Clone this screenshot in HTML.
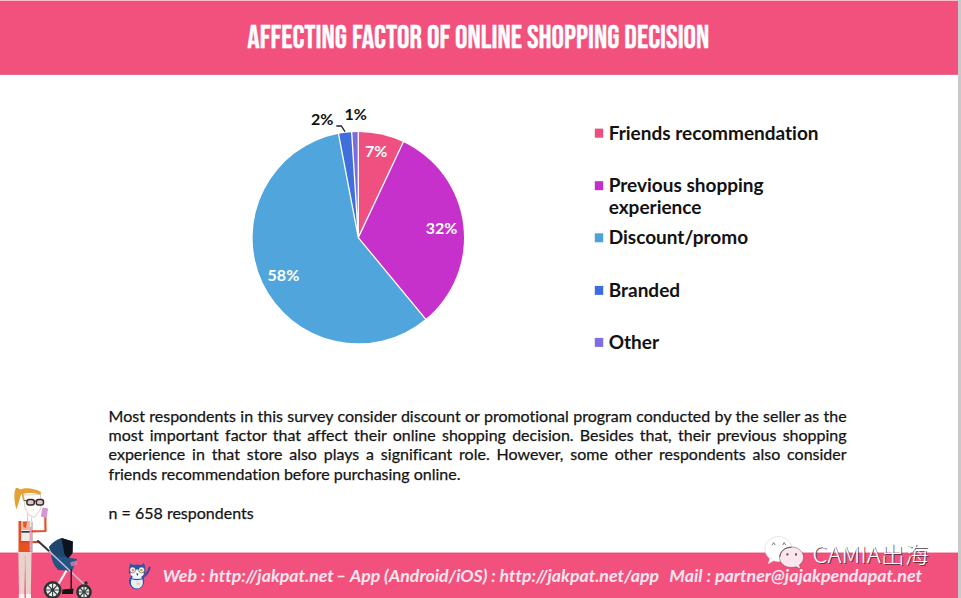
<!DOCTYPE html>
<html><head><meta charset="utf-8">
<style>
*{margin:0;padding:0;box-sizing:border-box}
html,body{width:961px;height:598px;overflow:hidden;background:#fff}
body{position:relative;font-family:"Lato","Liberation Sans",sans-serif;color:#1a1a1a}
svg{position:absolute;left:0;top:0;font-variant-ligatures:none}
.para{position:absolute;left:108.6px;top:405.6px;width:738px;font-size:16px;line-height:19.4px;color:#141414;-webkit-text-stroke:0.25px #141414;font-variant-ligatures:none}
.para div{text-align:justify;text-align-last:justify;white-space:nowrap}
.para div.last{text-align-last:left}
</style></head><body>
<svg width="961" height="598" viewBox="0 0 961 598">
<!-- header band -->
<rect x="0" y="0" width="958" height="74.6" fill="#F2517D"/>
<rect x="0" y="0" width="958" height="1" fill="#F9BDCC"/>
<rect x="0" y="1" width="958" height="1" fill="#D65E80"/>
<rect x="0" y="73.6" width="958" height="1" fill="#D85A7E"/>
<text x="478.3" y="47.8" text-anchor="middle" font-family="'Bebas Neue','Liberation Sans',sans-serif" font-size="32" fill="#fff" stroke="#fff" stroke-width="0.35" textLength="462" lengthAdjust="spacingAndGlyphs">AFFECTING FACTOR OF ONLINE SHOPPING DECISION</text>
<!-- footer band -->
<rect x="0" y="552" width="958" height="46" fill="#F2517D"/>
<rect x="0" y="552" width="958" height="1" fill="#F8AFC3"/>
<rect x="0" y="553" width="958" height="1" fill="#E05479"/>
<!-- right strip -->
<rect x="958" y="0" width="3" height="598" fill="#C9C9C9"/>

<!-- pie -->
<g>
<path d="M358.3,237.65 L358.30,131.95 A105.7,105.7 0 0 1 403.30,142.01 Z" fill="#EF5080"/>
<path d="M358.3,237.65 L403.30,142.01 A105.7,105.7 0 0 1 425.68,319.09 Z" fill="#C631CB"/>
<path d="M358.3,237.65 L425.68,319.09 A105.7,105.7 0 1 1 338.49,133.82 Z" fill="#50A5DD"/>
<path d="M358.3,237.65 L338.49,133.82 A105.7,105.7 0 0 1 351.66,132.16 Z" fill="#3F6FDB"/>
<path d="M358.3,237.65 L351.66,132.16 A105.7,105.7 0 0 1 358.30,131.95 Z" fill="#7D6BDB"/>
</g>
<path d="M358.3,237.65 L358.30,131.35 M358.3,237.65 L403.56,141.47 M358.3,237.65 L426.06,319.56 M358.3,237.65 L338.38,133.23 M358.3,237.65 L351.63,131.56" stroke="#fff" stroke-width="1.3" fill="none"/>
<path d="M336.3,126 L341.3,126 L345,131.7" fill="none" stroke="#222" stroke-width="1.3"/>
<g font-family="Lato,'Liberation Sans',sans-serif" font-weight="700" font-size="16">
<text x="365.1" y="157.2" fill="#fff">7%</text>
<text x="425.8" y="234" fill="#fff">32%</text>
<text x="267.6" y="280.8" fill="#fff">58%</text>
<text x="310.9" y="125.4" fill="#111">2%</text>
<text x="344.6" y="120.4" fill="#111">1%</text>
</g>

<!-- legend -->
<rect x="594.8" y="128.6" width="8.4" height="9.1" fill="#EA5080"/>
<rect x="594.8" y="181.2" width="8.4" height="9.0" fill="#C42FCC"/>
<rect x="594.8" y="233.3" width="8.4" height="9.0" fill="#4EA2DB"/>
<rect x="594.8" y="285.9" width="8.4" height="9.0" fill="#3F6AE0"/>
<rect x="594.8" y="337.9" width="8.4" height="9.0" fill="#7D6CE2"/>
<g font-family="Lato,'Liberation Sans',sans-serif" font-weight="700" font-size="19" fill="#121212">
<text x="608.7" y="139.7" textLength="209.88" lengthAdjust="spacingAndGlyphs">Friends recommendation</text>
<text x="608.7" y="191.7" textLength="154.92" lengthAdjust="spacingAndGlyphs">Previous shopping</text>
<text x="608.7" y="213.7" textLength="92.78" lengthAdjust="spacingAndGlyphs">experience</text>
<text x="608.7" y="243.9" textLength="139.38" lengthAdjust="spacingAndGlyphs">Discount/promo</text>
<text x="608.7" y="296.9" textLength="71.38" lengthAdjust="spacingAndGlyphs">Branded</text>
<text x="608.7" y="348.9" textLength="50.36" lengthAdjust="spacingAndGlyphs">Other</text>
</g>

<!-- woman with stroller -->
<g id="woman">
<!-- pants -->
<path d="M18.3,551 L31.6,551 L30.8,594 L26,594 L25.2,560 L24.3,594 L19,594 Z" fill="#E8D2CB"/>
<path d="M25.2,556 L25.2,594" stroke="#C8AEA6" stroke-width="0.6"/>
<path d="M18.8,594 L24.5,594 L24.5,598 L18.8,598 Z M25.8,594 L31,594 L31,598 L25.8,598 Z" fill="#F8F4F2"/>
<!-- shirt -->
<rect x="19" y="521" width="13" height="31" fill="#F4E8E2"/>
<rect x="18.5" y="521" width="2.6" height="31" fill="#E04C24"/>
<path d="M21,521 L30,521 L29.5,530 L21,530 Z" fill="#EFB49C"/>
<path d="M23,522 L27,521.5 L26,528 L23.5,527 Z" fill="#E2582E"/>
<rect x="21.3" y="531" width="9.8" height="1.7" fill="#3A3A42"/>
<rect x="19" y="543" width="12.6" height="9" fill="#E8521F"/>
<rect x="19" y="541" width="20" height="2.2" fill="#D84A1E"/>
<rect x="29.6" y="527" width="2" height="24.5" fill="#E89CC2"/>
<rect x="31.5" y="522" width="1.2" height="30" fill="#B8A8A8"/>
<!-- neck -->
<path d="M27.3,514 L27.6,521 M31.6,517.5 L31.6,521" stroke="#B4A8A8" stroke-width="0.6" fill="none"/>
<!-- face -->
<path d="M23.5,495 L40.5,494.5 L40.8,509 L34.5,517.5 L29,515 L25,508 Z" fill="#FFFEFC" stroke="#BDB0AC" stroke-width="0.6"/>
<!-- hair -->
<path d="M19.5,490 C24,487 34,488 40.8,491.8 L40.8,494.8 C34,492.6 27,492.6 22,494.5 Z" fill="#E3A234"/>
<path d="M16,488 C13.5,492 14,502 16.5,509.5 C18.5,504 19.8,498 21.8,492 C21.2,489.5 18.5,487.5 16,488 Z" fill="#E3A234"/>
<path d="M21,491 C22.6,494 23.6,497 23.9,501" stroke="#E3A234" stroke-width="1.6" fill="none"/>
<!-- glasses -->
<rect x="26.9" y="499.4" width="7.4" height="5.6" rx="2.3" fill="#D6CACA" stroke="#382626" stroke-width="1.5"/>
<rect x="36.3" y="499.4" width="7.2" height="5.6" rx="2.3" fill="#D6CACA" stroke="#382626" stroke-width="1.5"/>
<path d="M34.3,501 L36.3,501 M26.9,501 L24.5,500.5" stroke="#382626" stroke-width="1.1"/>
<path d="M33,509 L33.8,510" stroke="#C0B0B0" stroke-width="0.6"/>
<!-- phone + raised arm -->
<path d="M45.3,515 L45.5,531 L31.5,531.4" stroke="#E0502A" stroke-width="2.2" fill="none" stroke-linejoin="round"/>
<rect x="41.6" y="507.8" width="5.8" height="9.6" rx="1" fill="#D894D4" transform="rotate(10 44.5 512.6)"/>
<!-- stroller handle + frame -->
<path d="M38,541 L49.5,551.5" stroke="#35363F" stroke-width="2.1" stroke-linecap="round"/>
<!-- canopy -->
<path d="M48.8,547 C52,542.5 56.5,539.5 61.5,538 L72.8,541.5 L72.5,553 L67,560 L57,560 C53,556 50.5,551.5 48.8,547 Z" fill="#1F466E"/>
<path d="M61.5,538 L72.8,541.5 L72.5,553 L68,559 L64.5,554 Z" fill="#0D121C"/>
<!-- seat -->
<path d="M51,555 L77,559 L72,571 L58,570 C54,566 52,561 51,555 Z" fill="#245485"/>
<path d="M70,562.5 L76.5,560.5 L77.5,564.5 L71.5,566.5 Z" fill="#D882B2" fill-opacity="0.8"/>
<!-- frame legs -->
<path d="M49,551 L87,587" stroke="#C4C4CC" stroke-width="1.4"/>
<path d="M66.5,570.5 L55.5,589" stroke="#F4F4F4" stroke-width="2.2"/>
<path d="M71.2,569 L71.2,592" stroke="#4A1428" stroke-width="1.6"/>
<path d="M62.5,589.5 L73.5,588.5 L73,594 L62,594 Z" fill="#141414"/>
<!-- wheels -->
<circle cx="52.6" cy="590" r="7.7" fill="#ECECEC" stroke="#2C3232" stroke-width="2.5"/>
<path d="M45.5,590 L59.7,590 M52.6,583 L52.6,597 M47.6,585 L57.6,595 M57.6,585 L47.6,595" stroke="#3A4242" stroke-width="1.1"/>
<circle cx="52.6" cy="590" r="1.5" fill="#333"/>
<circle cx="84" cy="592" r="6.6" fill="#ECECEC" stroke="#2C3232" stroke-width="2.5"/>
<path d="M78,592 L90,592 M84,586 L84,598 M80,588 L88,596 M88,588 L80,596" stroke="#3A4242" stroke-width="1.1"/>
<circle cx="86" cy="583" r="1.7" fill="#303030"/>
</g>

<!-- owl -->
<g id="owl">
<path d="M143,577 C146,575 148.5,572 149.6,567.5" stroke="#4B40A2" stroke-width="2.1" fill="none" stroke-linecap="round"/>
<ellipse cx="136.6" cy="581.2" rx="7.6" ry="8.2" fill="#2D4F9C"/>
<ellipse cx="136.9" cy="582" rx="6.1" ry="6.6" fill="#E6EFF9"/>
<ellipse cx="138.2" cy="583.5" rx="2.2" ry="1.6" fill="#F0D0B0"/>
<path d="M129,574 C128.3,569 129.5,566 130.5,563.3 L133,565 C135.5,564.2 138.8,564.2 141.5,565 L143.9,563 C145.2,566 146,569.5 145.3,574 Z" fill="#2B58A4"/>
<ellipse cx="137.1" cy="573.6" rx="6.6" ry="4.2" fill="#F3F8FC"/>
<path d="M130,578 C134,579.8 140,579.8 144,578" stroke="#2B58A4" stroke-width="1.1" fill="none"/>
<circle cx="132.6" cy="569.9" r="2.9" fill="#fff" stroke="#40404A" stroke-width="0.6"/>
<circle cx="141.6" cy="569.9" r="2.9" fill="#fff" stroke="#40404A" stroke-width="0.6"/>
<circle cx="132.8" cy="570.1" r="1.3" fill="#E08A60"/>
<circle cx="141.4" cy="570.1" r="1.3" fill="#B8A040"/>
<path d="M136.2,573.4 L138.4,573.4 L137.3,576 Z" fill="#2A2A3A"/>
</g>

<!-- wechat watermark -->
<g id="wm">
<path d="M778.5,536.5 C786,536.5 792,542 792,549 C792,556 786,561.5 778.5,561.5 C776.5,561.5 775,561.2 773.5,560.7 L768.5,563.5 L769.8,558.5 C766.8,556.3 765,553 765,549 C765,542 771,536.5 778.5,536.5 Z" fill="#FFFFFF" stroke="#DADADA" stroke-width="0.7"/>
<path d="M772,545.2 L773.6,542.6 L775.2,545.2 M782.6,545.2 L784.2,542.6 L785.8,545.2" fill="none" stroke="#6A6A6A" stroke-width="0.9"/>
<path d="M791.5,547 C798.5,547 803.5,551.8 803.5,557.5 C803.5,560.5 802,563 799.5,564.8 L800.5,569 L796,566.8 C794.7,567.2 793.2,567.5 791.5,567.5 C784.5,567.5 779.5,563 779.5,557.5 C779.5,551.8 784.5,547 791.5,547 Z" fill="#FBE6EE" stroke="#5A3A45" stroke-opacity="0.5" stroke-width="0.9"/>
<path d="M780,557 C780,551.5 785,547.3 791.5,547.3" fill="none" stroke="#3A2A30" stroke-opacity="0.7" stroke-width="1"/>
<rect x="786.4" y="553.4" width="2" height="2" fill="#5A4A50"/>
<rect x="795" y="553.4" width="2" height="2" fill="#5A4A50"/>
<g font-family="'Noto Sans CJK SC','Liberation Sans',sans-serif" font-weight="300" font-size="22.5">
<text x="813.6" y="563.6" fill="#3A2A30" fill-opacity="0.75" textLength="116" lengthAdjust="spacingAndGlyphs">CAMIA出海</text>
<text x="812.6" y="562.7" fill="#FFFFFF" textLength="116" lengthAdjust="spacingAndGlyphs">CAMIA出海</text>
</g>
</g>

<!-- footer text -->
<g font-family="Lato,'Liberation Sans',sans-serif" font-weight="700" font-style="italic" font-size="17.7" fill="#FCE6EF">
<text x="162.7" y="581.7" textLength="171.08" lengthAdjust="spacingAndGlyphs">Web : http://jakpat.net</text>
<text x="336" y="581.7" textLength="159.88" lengthAdjust="spacingAndGlyphs">– App (Android/iOS) :</text>
<text x="499.5" y="581.7" textLength="159.53" lengthAdjust="spacingAndGlyphs">http://jakpat.net/app</text>
<text x="669.3" y="581.7" font-size="17.8" textLength="252.67" lengthAdjust="spacingAndGlyphs">Mail : partner@jajakpendapat.net</text>
</g>
</svg>

<div class="para">
<div>Most respondents in this survey consider discount or promotional program conducted by the seller as the</div>
<div>most important factor that affect their online shopping decision. Besides that, their previous shopping</div>
<div>experience in that store also plays a significant role. However, some other respondents also consider</div>
<div class="last">friends recommendation before purchasing online.</div>
<div class="last" style="margin-top:19.4px">n = 658 respondents</div>
</div>
</body></html>
